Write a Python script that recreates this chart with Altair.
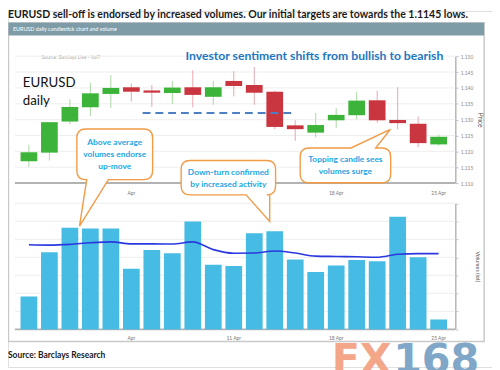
import altair as alt
import pandas as pd

# ---------------- data ----------------
days = list(range(1, 22))
opens = [1.1169, 1.1196, 1.1294, 1.1339, 1.1381, 1.1402, 1.1392, 1.1384, 1.1402, 1.1372, 1.1422,
         1.1409, 1.1388, 1.1282, 1.1259, 1.1298, 1.1314, 1.1361, 1.1299, 1.1287, 1.1222]
highs = [1.1221, 1.1293, 1.1364, 1.1416, 1.1440, 1.1414, 1.1409, 1.1422, 1.1456, 1.1422, 1.1453,
         1.1466, 1.1391, 1.1298, 1.1321, 1.1337, 1.1388, 1.1391, 1.1402, 1.1310, 1.1252]
lows = [1.1151, 1.1171, 1.1285, 1.1311, 1.1337, 1.1357, 1.1340, 1.1349, 1.1339, 1.1347, 1.1373,
        1.1347, 1.1270, 1.1233, 1.1244, 1.1273, 1.1301, 1.1290, 1.1270, 1.1213, 1.1218]
closes = [1.1197, 1.1292, 1.1340, 1.1383, 1.1400, 1.1388, 1.1385, 1.1401, 1.1378, 1.1402, 1.1406,
          1.1385, 1.1277, 1.1270, 1.1283, 1.1315, 1.1360, 1.1298, 1.1289, 1.1226, 1.1246]
volumes = [183, 428, 565, 561, 561, 337, 441, 423, 599, 359, 352,
           534, 545, 388, 319, 355, 386, 379, 625, 401, 55]
vol_avg = [470, 468, 472, 481, 486, 475, 475, 474, 486, 443, 423,
           424, 435, 424, 407, 405, 403, 401, 417, 421, 421]

price_ticks = [1.110, 1.115, 1.120, 1.125, 1.130, 1.135, 1.140, 1.145, 1.150]
vol_ticks = [0, 100, 200, 300, 400, 500, 600, 700]
top_tick_days = [6, 16, 21]
top_tick_labels = ["Apr", "18 Apr", "25 Apr"]
bot_tick_days = [6, 11, 16, 21]
bot_tick_labels = ["Apr", "11 Apr", "18 Apr", "25 Apr"]
support_level = [1.1321]
support_from = [6.55]
support_to = [13.95]

title_text = "EURUSD sell-off is endorsed by increased volumes. Our initial targets are towards the 1.1145 lows."
header_text = "EURUSD daily candlestick chart and volume"
source_small = "Source: Barclays Live - VolT"
headline = "Investor sentiment shifts from bullish to bearish"
pair_text = ["EURUSD", "daily"]
callout_texts = ["Above average\nvolumes endorse\nup-move",
                 "Down-turn confirmed\nby increased activity",
                 "Topping candle sees\nvolumes surge"]
source_text = "Source: Barclays Research"
wm_parts = ["FX", "168"]

# ---------------- styles / layout ----------------
GREEN, RED = "#3cb43a", "#c9363f"
WICK_GREEN, WICK_RED = "#a9d9a2", "#e4a7ad"
ORANGE = "#f29a45"
CALLOUT_BLUE = "#22a6e4"
FONT = "Lato"

X_SCALE = alt.Scale(domain=[0.5, 21.5], range=[5.85, 453.15], nice=False, zero=False)
P_SCALE = alt.Scale(domain=[1.110, 1.150], range=[175, 46], nice=False, zero=False)
V_SCALE = alt.Scale(domain=[0, 700], range=[323.7, 195.6], nice=False, zero=True)
PL, PR = 7, 454.7

PRICE_AXIS = alt.Axis(orient="right", offset=-37.3, values=price_ticks, format=".3f", grid=False,
                      domainColor="#b5b5b5", domainWidth=1.5, tickColor="#c8c8c8", tickSize=3,
                      labelFontSize=5, labelColor="#8a8a8a", labelPadding=2, labelFlush=False,
                      labelOverlap=False, title="Price", titleFontSize=7, titleFontWeight="normal",
                      titleColor="#555555", titleAngle=90, titlePadding=4)
VOL_AXIS = alt.Axis(orient="right", offset=-37.3, values=vol_ticks, labels=False, grid=False,
                    domainColor="#b5b5b5", domainWidth=1.5, tickColor="#d0d0d0", tickSize=3,
                    title="Volumes (lot)", titleFontSize=5.5, titleFontWeight="normal",
                    titleColor="#555555", titleAngle=90, titlePadding=16)


def xenc(field="day"):
    return alt.X(f"{field}:Q", scale=X_SCALE, axis=None)


df = pd.DataFrame({"day": days, "open": opens, "high": highs, "low": lows, "close": closes,
                   "volume": volumes, "vol_avg": vol_avg})
xt_top = pd.DataFrame({"day": top_tick_days, "label": top_tick_labels})
xt_bot = pd.DataFrame({"day": bot_tick_days, "label": bot_tick_labels})
one = pd.DataFrame({"k": [0]})

up = "datum.close >= datum.open"

# ---------------- price panel ----------------
price_grid = alt.Chart(pd.DataFrame({"tick": price_ticks[1:]})).mark_rule(
    color="#eeeeee", strokeWidth=1).encode(
    y=alt.Y("tick:Q", scale=P_SCALE, axis=PRICE_AXIS), x=alt.value(PL), x2=alt.value(PR))
price_base = alt.Chart(pd.DataFrame({"tick": price_ticks[:1]})).mark_rule(
    color="#b3b3b3", strokeWidth=2).encode(
    y=alt.Y("tick:Q", scale=P_SCALE, axis=PRICE_AXIS), x=alt.value(PL), x2=alt.value(PR))
wicks = alt.Chart(df).mark_rule(strokeWidth=1).encode(
    x=xenc(), y=alt.Y("low:Q", scale=P_SCALE, axis=PRICE_AXIS), y2="high:Q",
    color=alt.condition(up, alt.value(WICK_GREEN), alt.value(WICK_RED)))
bodies = alt.Chart(df).mark_bar(size=17).encode(
    x=xenc(), y=alt.Y("open:Q", scale=P_SCALE, axis=PRICE_AXIS), y2="close:Q",
    color=alt.condition(up, alt.value(GREEN), alt.value(RED)))
support = alt.Chart(pd.DataFrame({"level": support_level, "x0": support_from, "x1": support_to})).mark_rule(
    color="#4d7fc3", strokeWidth=2, strokeDash=[8, 5]).encode(
    x=xenc("x0"), x2="x1:Q", y=alt.Y("level:Q", scale=P_SCALE, axis=PRICE_AXIS))
top_labels = alt.Chart(xt_top).mark_text(fontSize=5, color="#777777").encode(
    x=xenc(), y=alt.value(185), text="label:N")
price_layer = alt.layer(price_grid, price_base, wicks, bodies, support, top_labels)

# ---------------- volume panel ----------------
vol_grid = alt.Chart(pd.DataFrame({"tick": vol_ticks[1:]})).mark_rule(
    color="#eeeeee", strokeWidth=1).encode(
    y=alt.Y("tick:Q", scale=V_SCALE, axis=VOL_AXIS), x=alt.value(PL), x2=alt.value(PR))
vol_base = alt.Chart(pd.DataFrame({"tick": vol_ticks[:1]})).mark_rule(
    color="#b3b3b3", strokeWidth=2).encode(
    y=alt.Y("tick:Q", scale=V_SCALE, axis=VOL_AXIS), x=alt.value(PL), x2=alt.value(PR))
vol_bars = alt.Chart(df).mark_bar(size=17, color="#46bbe3").encode(
    x=xenc(), y=alt.Y("volume:Q", scale=V_SCALE, axis=VOL_AXIS))
vol_line = alt.Chart(df).mark_line(color="#2a38df", strokeWidth=1.6, interpolate="monotone").encode(
    x=xenc(), y=alt.Y("vol_avg:Q", scale=V_SCALE, axis=VOL_AXIS))
bot_labels = alt.Chart(xt_bot).mark_text(fontSize=5, color="#777777").encode(
    x=xenc(), y=alt.value(333), text="label:N")
vol_layer = alt.layer(vol_grid, vol_base, vol_bars, vol_line, bot_labels)

# ---------------- frame & texts ----------------
panel = alt.Chart(one).mark_rect(fillOpacity=0, stroke="#c9c9c9", strokeWidth=1.5).encode(
    x=alt.value(0.5), x2=alt.value(484), y=alt.value(12), y2=alt.value(336))
header = alt.Chart(one).mark_rect(color="#7d9ca7").encode(
    x=alt.value(0.5), x2=alt.value(484), y=alt.value(12), y2=alt.value(25))
header_t = alt.Chart(pd.DataFrame({"t": [header_text]})).mark_text(
    fontSize=5.5, color="white", align="left", baseline="middle").encode(
    x=alt.value(5), y=alt.value(18.5), text="t:N")
title = alt.Chart(pd.DataFrame({"t": [title_text]})).mark_text(
    fontSize=10.7, fontWeight="bold", color="#1a1a1a", align="left", baseline="alphabetic").encode(
    x=alt.value(0), y=alt.value(7.5), text="t:N")
src_small = alt.Chart(pd.DataFrame({"t": [source_small]})).mark_text(
    fontSize=5, color="#aaaaaa", align="left", baseline="middle").encode(
    x=alt.value(34), y=alt.value(47), text="t:N")
head = alt.Chart(pd.DataFrame({"t": [headline]})).mark_text(
    fontSize=12.4, fontWeight="bold", color="#1f77c2", align="center", baseline="alphabetic").encode(
    x=alt.value(311.5), y=alt.value(50), text="t:N")
pair1 = alt.Chart(pd.DataFrame({"t": [pair_text[0]]})).mark_text(
    fontSize=13.5, color="#111111", align="left", baseline="alphabetic").encode(
    x=alt.value(15), y=alt.value(77), text="t:N")
pair2 = alt.Chart(pd.DataFrame({"t": [pair_text[1]]})).mark_text(
    fontSize=13.5, color="#111111", align="left", baseline="alphabetic").encode(
    x=alt.value(15), y=alt.value(95.5), text="t:N")
source = alt.Chart(pd.DataFrame({"t": [source_text]})).mark_text(
    fontSize=8.6, fontWeight="bold", color="#1a1a1a", align="left", baseline="alphabetic").encode(
    x=alt.value(0), y=alt.value(352.5), text="t:N")


def callout_path(x0, y0, x1, y1, r, side, b0, b1, tx, ty):
    p = [f"M {x0 + r} {y0}"]
    if side == "top":
        p += [f"L {b0} {y0}", f"L {tx} {ty}", f"L {b1} {y0}"]
    p += [f"L {x1 - r} {y0}", f"Q {x1} {y0} {x1} {y0 + r}", f"L {x1} {y1 - r}",
          f"Q {x1} {y1} {x1 - r} {y1}"]
    if side == "bottom":
        p += [f"L {b1} {y1}", f"L {tx} {ty}", f"L {b0} {y1}"]
    p += [f"L {x0 + r} {y1}", f"Q {x0} {y1} {x0} {y1 - r}", f"L {x0} {y0 + r}",
          f"Q {x0} {y0} {x0 + r} {y0}", "Z"]
    return " ".join(p)


callout_geo = [
    (70, 120, 147, 171.5, 9, "bottom", 80, 102, 72.7, 218.7),
    (176, 152, 272, 187, 9, "bottom", 242, 266, 266, 214),
    (297, 139.3, 389, 174.7, 9, "top", 348.7, 373.7, 388.7, 120.3),
]
callout_text_pos = [(108.5, 132.9), (224, 163.8), (343, 150.5)]

callouts = []
for geo, txt, (tx, ty) in zip(callout_geo, callout_texts, callout_text_pos):
    shape = callout_path(*geo)
    callouts.append(alt.Chart(one).mark_point(
        shape=shape, size=4, filled=True, fill="white", stroke=ORANGE, strokeWidth=1.4,
        opacity=1, fillOpacity=1, strokeOpacity=1).encode(x=alt.value(0), y=alt.value(0)))
    callouts.append(alt.Chart(pd.DataFrame({"t": [txt]})).mark_text(
        fontSize=8.5, fontWeight="bold", color=CALLOUT_BLUE, align="center", baseline="middle",
        lineBreak="\n", lineHeight=12.6).encode(x=alt.value(tx), y=alt.value(ty), text="t:N"))

wm1 = alt.Chart(pd.DataFrame({"t": [wm_parts[0]]})).mark_text(
    font="DejaVu Sans", fontSize=42, fontWeight="bold", color="#f4a689", align="left",
    baseline="alphabetic").encode(x=alt.value(329), y=alt.value(368.5), text="t:N")
wm2 = alt.Chart(pd.DataFrame({"t": [wm_parts[1]]})).mark_text(
    font="DejaVu Sans", fontSize=42, fontWeight="bold", color="#80a7c7", align="left",
    baseline="alphabetic").encode(x=alt.value(391.5), y=alt.value(368.5), text="t:N")

chart = alt.layer(
    panel, header, header_t, title, src_small, price_layer, vol_layer, head, pair1, pair2,
    *callouts, source, wm1, wm2
).resolve_scale(y="independent").properties(
    width=492, height=362, autosize=alt.AutoSizeParams(type="none"), padding=0
).configure_view(stroke=None).configure(font=FONT)

chart.save("out.html", embed_options={"renderer": "svg", "actions": False})
